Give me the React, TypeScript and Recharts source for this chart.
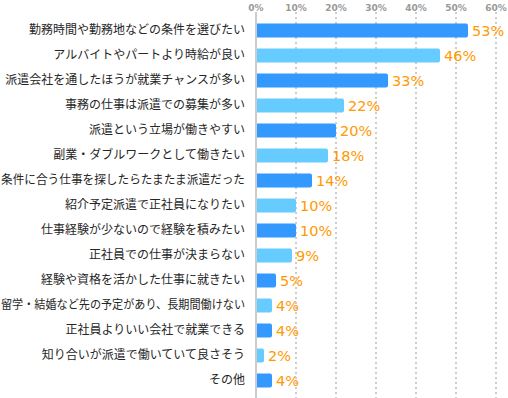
import { BarChart, Bar, XAxis, YAxis, CartesianGrid, Cell, LabelList } from 'recharts';

const categories = [
  '勤務時間や勤務地などの条件を選びたい',
  'アルバイトやパートより時給が良い',
  '派遣会社を通したほうが就業チャンスが多い',
  '事務の仕事は派遣での募集が多い',
  '派遣という立場が働きやすい',
  '副業・ダブルワークとして働きたい',
  '条件に合う仕事を探したらたまたま派遣だった',
  '紹介予定派遣で正社員になりたい',
  '仕事経験が少ないので経験を積みたい',
  '正社員での仕事が決まらない',
  '経験や資格を活かした仕事に就きたい',
  '留学・結婚など先の予定があり、長期間働けない',
  '正社員よりいい会社で就業できる',
  '知り合いが派遣で働いていて良さそう',
  'その他',
];
const values = [53, 46, 33, 22, 20, 18, 14, 10, 10, 9, 5, 4, 4, 2, 4];
const xTicks = [0, 10, 20, 30, 40, 50, 60];

const data = categories.map((name, i) => ({ name, value: values[i] }));

// 左側のカテゴリ名（右寄せ、はみ出す長い名前だけ詰める）
function CategoryTick(props: any) {
  const { x, y, payload } = props;
  const text: string = payload.value;
  const maxWidth = x - 1;
  const fit = text.length * 12 > maxWidth ? { textLength: maxWidth, lengthAdjust: 'spacingAndGlyphs' } : {};
  return (
    <text
      x={x}
      y={y}
      dy={4}
      textAnchor="end"
      fill="#262626"
      fontSize={12}
      fontFamily='"Noto Sans CJK JP", sans-serif'
      {...fit}
    >
      {text}
    </text>
  );
}

export default function App() {
  return (
    <div style={{ position: 'absolute', left: 0, top: 0 }}>
      <BarChart
        width={508}
        height={398}
        data={data}
        layout="vertical"
        margin={{ top: 0, right: 12, bottom: 0, left: 0 }}
      >
        <CartesianGrid horizontal={false} stroke="#999" strokeDasharray="2 3" />
        <XAxis
          type="number"
          orientation="top"
          domain={[0, 60]}
          ticks={xTicks}
          interval={0}
          height={12}
          axisLine={false}
          tickLine={false}
          tickSize={0}
          tickMargin={1}
          tickFormatter={(v: number) => `${v}%`}
          tick={{ fontSize: 9, fill: '#999', fontWeight: 'bold', fontFamily: '"DejaVu Sans", sans-serif' }}
        />
        <YAxis
          type="category"
          dataKey="name"
          width={256}
          padding={{ top: 5.5, bottom: 5.5 }}
          axisLine={{ stroke: '#ccc', strokeWidth: 2 }}
          tickLine={false}
          tickMargin={5}
          interval={0}
          tick={<CategoryTick />}
        />
        <Bar dataKey="value" barSize={14} radius={[0, 2, 2, 0]} isAnimationActive={false}>
          {data.map((_, i) => (
            <Cell key={i} fill={i % 2 === 0 ? '#3399ff' : '#66ccff'} />
          ))}
          <LabelList
            dataKey="value"
            position="right"
            offset={4}
            fill="#ff9900"
            fontSize={14.5}
            fontFamily='"DejaVu Sans", sans-serif'
            formatter={(v: any) => `${v}%`}
          />
        </Bar>
      </BarChart>
    </div>
  );
}
